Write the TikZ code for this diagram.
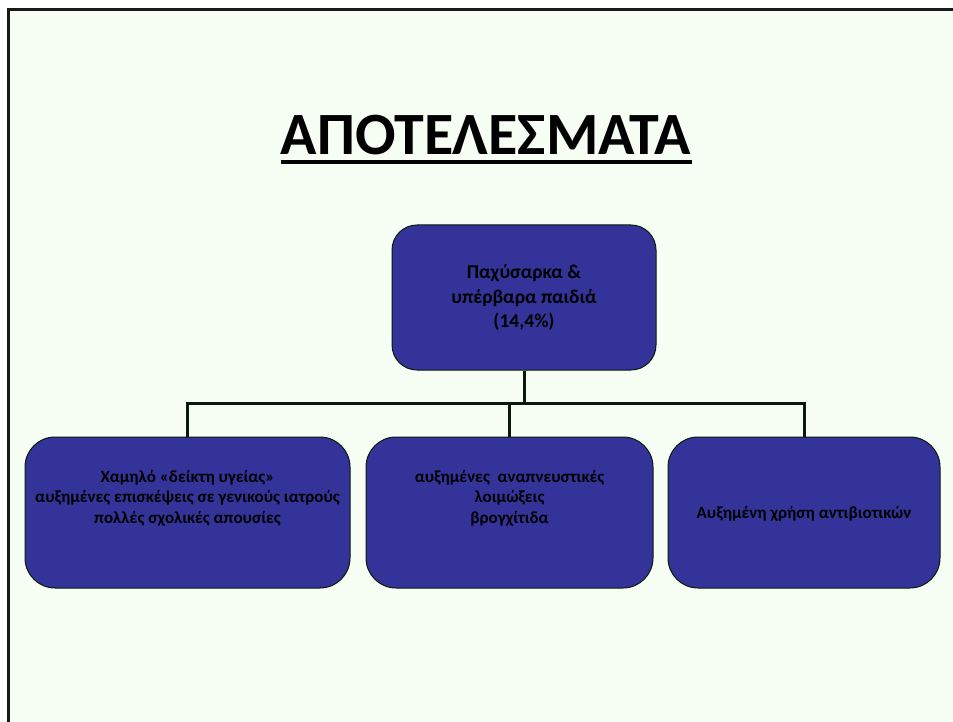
\documentclass[tikz,border=0pt]{standalone}
\usepackage{fontspec}
\setmainfont{Carlito}
\usetikzlibrary{calc}
\definecolor{boxblue}{HTML}{333399}
\definecolor{slide}{HTML}{F7FFF5}
\definecolor{linkgreen}{HTML}{0A1A0A}
\tikzset{
  box/.style={draw=linkgreen, line width=1pt, fill=boxblue, inner sep=0pt},
  boxtext/.style={align=center, font=\bfseries\fontsize{17}{20.5}\selectfont, text=black},
  link/.style={draw=linkgreen, line width=3pt},
}

\begin{document}
\begin{tikzpicture}[x=1pt, y=-1pt]
			%%%%% START %%%%%
			\useasboundingbox (0, 0) rectangle (953, 722);
			\fill[white] (0, 0) rectangle (953, 722);
			\fill[slide] (8, 10) rectangle (953, 722);
			\draw[line width=3pt, color=black!90] (8, 722) -- (8, 10) -- (953, 10);
			
			% title
			\node[font=\bfseries\fontsize{60}{62}\selectfont, anchor=base] (title) at (486, 155) {ΑΠΟΤΕΛΕΣΜΑΤΑ};
			\draw[line width=4pt] (281, 162) -- (692, 162);
			
			% boxes
			\node[box, rounded corners=25pt, minimum width=264pt, minimum height=145pt] (top) at (524, 297.5) {};
			\node[box, rounded corners=30pt, minimum width=325pt, minimum height=151pt] (left) at (187.5, 512.5) {};
			\node[box, rounded corners=30pt, minimum width=287pt, minimum height=151pt] (mid) at (509.5, 512.5) {};
			\node[box, rounded corners=30pt, minimum width=272pt, minimum height=151pt] (right) at (804, 512.5) {};
			
			\node[boxtext, font=\bfseries\fontsize{19.5}{24.5}\selectfont] (toptext) at (524, 298) {Παχύσαρκα \&\\υπέρβαρα παιδιά\\(14,4\%)};
			\node[boxtext] (lefttext) at (187.5, 498) {Χαμηλό «δείκτη υγείας»\\αυξημένες επισκέψεις σε γενικούς ιατρούς\\πολλές σχολικές απουσίες};
			\node[boxtext] (midtext) at (509.5, 498) {αυξημένες\ \ αναπνευστικές\\λοιμώξεις\\βρογχίτιδα};
			\node[boxtext] (righttext) at (804, 514) {Αυξημένη χρήση αντιβιοτικών};
			
			% connectors
			\coordinate (bus) at (524, 403);
			\draw[link] (top.south) -- (bus);
			\draw[link] (left.north) |- (bus) -| (right.north);
			\draw[link] (mid.north) -- (mid.north |- bus);
			%%%%% END %%%%%
\end{tikzpicture}
\end{document}
